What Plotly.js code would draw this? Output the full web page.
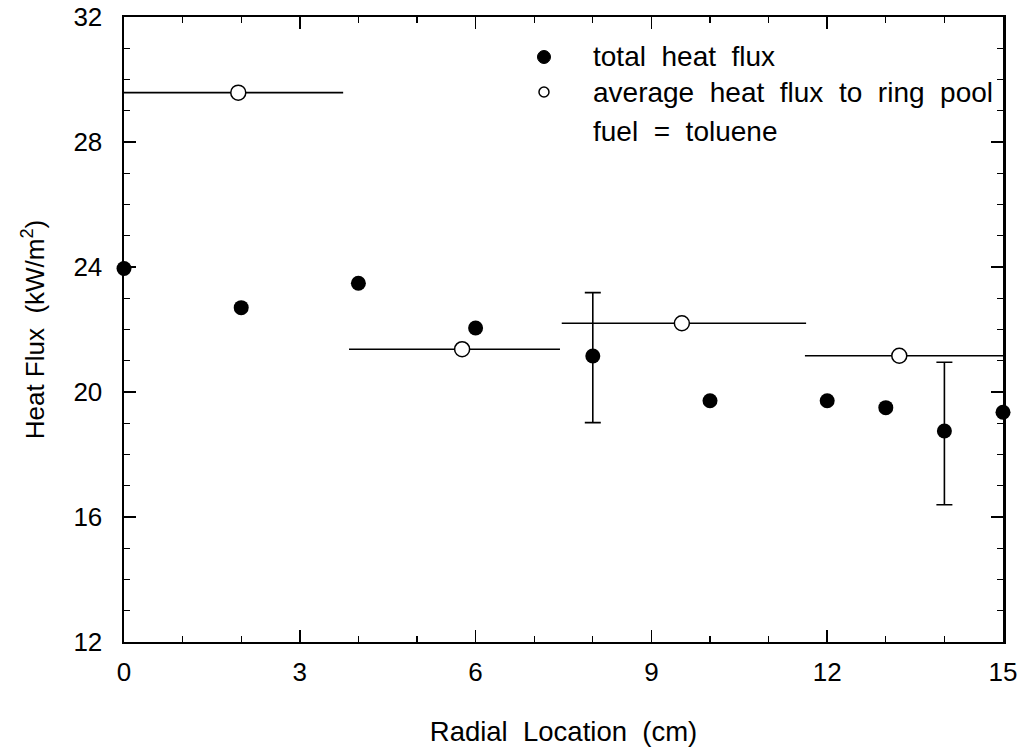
<!DOCTYPE html>
<html>
<head>
<meta charset="utf-8">
<script src="https://cdn.plot.ly/plotly-3.0.1.min.js"></script>
<style>html,body{margin:0;padding:0;background:#fff;}</style>
</head>
<body>
<div id="chart" style="width:1022px;height:748px;"></div>
<script>
// Total heat flux measurements
var totalX = [0, 2, 4, 6, 8, 10, 12, 13, 14, 15];
var totalY = [23.95, 22.7, 23.48, 22.05, 21.15, 19.72, 19.72, 19.5, 18.75, 19.35];
var totalErrPlus  = [NaN, NaN, NaN, NaN, 2.03, NaN, NaN, NaN, 2.2, NaN];
var totalErrMinus = [NaN, NaN, NaN, NaN, 2.13, NaN, NaN, NaN, 2.36, NaN];

// Average heat flux to ring pool (open circles) with ring extents
var ringX = [1.95, 5.77, 9.52, 13.23];
var ringY = [29.58, 21.37, 22.2, 21.16];
var ringStart = [0, 3.84, 7.47, 11.62];
var ringEnd = [3.74, 7.44, 11.64, 15.0];

var xTicks = [0, 3, 6, 9, 12, 15];
var yTicks = [12, 16, 20, 24, 28, 32];

var legendLabels = ['total\u00A0\u00A0heat\u00A0\u00A0flux',
                    'average\u00A0\u00A0heat\u00A0\u00A0flux\u00A0\u00A0to\u00A0\u00A0ring\u00A0\u00A0pool',
                    'fuel\u00A0\u00A0=\u00A0\u00A0toluene'];

var FONT = 'Liberation Sans, Arial, Helvetica, sans-serif';

var ringPlus = ringEnd.map(function (e, i) { return e - ringX[i]; });
var ringMinus = ringStart.map(function (s, i) { return ringX[i] - s; });

var traces = [
  {
    x: totalX, y: totalY, type: 'scatter', mode: 'markers', name: legendLabels[0],
    cliponaxis: false,
    marker: {symbol: 'circle', size: 15, color: '#000'},
    error_y: {type: 'data', symmetric: false, array: totalErrPlus, arrayminus: totalErrMinus,
              color: '#000', thickness: 1.6, width: 8}
  },
  {
    x: ringX, y: ringY, type: 'scatter', mode: 'markers', name: legendLabels[1],
    cliponaxis: false,
    marker: {symbol: 'circle', size: 15, color: '#fff', line: {color: '#000', width: 1.5}},
    error_x: {type: 'data', symmetric: false, array: ringPlus, arrayminus: ringMinus,
              color: '#000', thickness: 1.6, width: 0}
  }
];

var legX = 0.531, legMX = 0.4778;
var legY = [0.936, 0.88, 0.8176];

var layout = {
  width: 1022, height: 748,
  margin: {l: 124, r: 19, t: 17, b: 106},
  paper_bgcolor: '#fff', plot_bgcolor: '#fff',
  showlegend: false,
  font: {family: FONT, color: '#000', size: 26},
  xaxis: {
    range: [0, 15], tickvals: xTicks, ticktext: xTicks.map(String),
    ticks: 'inside', ticklen: 12, tickwidth: 1.5, tickcolor: '#000',
    minor: {dtick: 1, ticks: 'inside', ticklen: 6, tickwidth: 1.2, tickcolor: '#000'},
    showline: true, linecolor: '#000', linewidth: 2, mirror: 'ticks',
    showgrid: false, zeroline: false,
    ticklabelstandoff: 6,
    tickfont: {size: 26, family: FONT},
    title: {text: 'Radial\u00A0\u00A0Location\u00A0\u00A0(cm)', font: {size: 27.5, family: FONT}, standoff: 36}
  },
  yaxis: {
    range: [12, 32], tickvals: yTicks, ticktext: yTicks.map(String),
    ticks: 'inside', ticklen: 12, tickwidth: 1.5, tickcolor: '#000',
    minor: {dtick: 1, ticks: 'inside', ticklen: 6, tickwidth: 1.2, tickcolor: '#000'},
    showline: true, linecolor: '#000', linewidth: 2.5, mirror: 'ticks',
    showgrid: false, zeroline: false,
    ticklabelstandoff: 14,
    tickfont: {size: 26, family: FONT},
    title: {text: 'Heat\u00A0Flux\u00A0\u00A0(kW/m<sup>2</sup>)', font: {size: 26, family: FONT}, standoff: 22}
  },
  annotations: legendLabels.map(function (t, i) {
    return {xref: 'paper', yref: 'paper', x: legX, y: legY[i], xanchor: 'left', yanchor: 'middle',
            text: t, showarrow: false, font: {size: 28, family: FONT, color: '#000'}};
  }),
  shapes: [
    {type: 'circle', xref: 'paper', yref: 'paper', xsizemode: 'pixel', ysizemode: 'pixel',
     xanchor: legMX, yanchor: legY[0], x0: -6.5, x1: 6.5, y0: -6.5, y1: 6.5,
     fillcolor: '#000', line: {color: '#000', width: 1}},
    {type: 'circle', xref: 'paper', yref: 'paper', xsizemode: 'pixel', ysizemode: 'pixel',
     xanchor: legMX, yanchor: legY[1], x0: -5, x1: 5, y0: -5, y1: 5,
     fillcolor: '#fff', line: {color: '#000', width: 1.5}}
  ]
};

Plotly.newPlot('chart', traces, layout, {displayModeBar: false, staticPlot: true});
</script>
</body>
</html>
